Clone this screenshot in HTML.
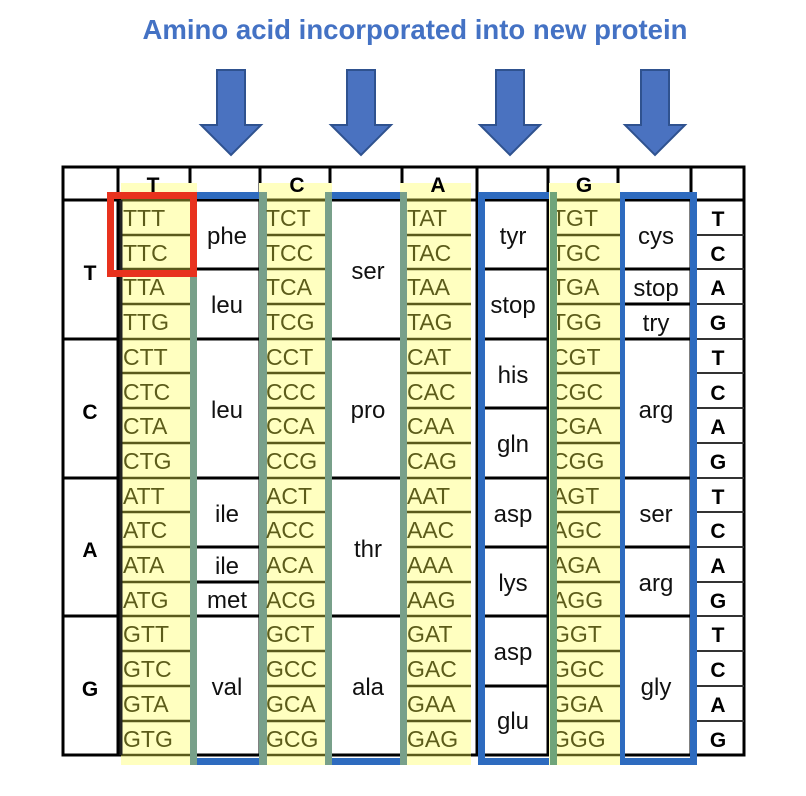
<!DOCTYPE html>
<html><head><meta charset="utf-8"><style>
html,body{margin:0;padding:0;background:#fff;width:806px;height:796px;overflow:hidden}
svg{display:block}
.cd{font-family:"Liberation Sans",sans-serif;font-size:23px;fill:#5c5c1a}
.aa{font-family:"Liberation Sans",sans-serif;font-size:24px;fill:#111;text-anchor:middle}
.b{font-family:"Liberation Sans",sans-serif;font-size:21px;font-weight:bold;fill:#000;text-anchor:middle}
</style></head><body>
<svg width="806" height="796" viewBox="0 0 806 796">
<text x="415" y="39" text-anchor="middle" font-family="Liberation Sans,sans-serif" font-weight="bold" font-size="27.5" fill="#4472c4" textLength="545" lengthAdjust="spacingAndGlyphs">Amino acid incorporated into new protein</text>
<g fill="#4a72c0" stroke="#2f528f" stroke-width="2">
<polygon points="217,70 245,70 245,125 261,125 231,155 201,125 217,125"/>
<polygon points="347,70 375,70 375,125 391,125 361,155 331,125 347,125"/>
<polygon points="496,70 524,70 524,125 540,125 510,155 480,125 496,125"/>
<polygon points="641,70 669,70 669,125 685,125 655,155 625,125 641,125"/>
</g>
<g stroke="#000" stroke-width="3" fill="none">
<rect x="63" y="167" width="681" height="588"/>
<line x1="63" y1="200" x2="744" y2="200"/>
<line x1="118" y1="167" x2="118" y2="755"/>
<line x1="190" y1="167" x2="190" y2="755"/>
<line x1="260" y1="167" x2="260" y2="755"/>
<line x1="330" y1="167" x2="330" y2="755"/>
<line x1="402" y1="167" x2="402" y2="755"/>
<line x1="477" y1="167" x2="477" y2="755"/>
<line x1="548" y1="167" x2="548" y2="755"/>
<line x1="618" y1="167" x2="618" y2="755"/>
<line x1="691" y1="167" x2="691" y2="755"/>
<line x1="63" y1="339" x2="118" y2="339"/>
<line x1="63" y1="478" x2="118" y2="478"/>
<line x1="63" y1="616" x2="118" y2="616"/>
<line x1="190" y1="269" x2="260" y2="269"/><line x1="190" y1="339" x2="260" y2="339"/><line x1="190" y1="478" x2="260" y2="478"/><line x1="190" y1="547" x2="260" y2="547"/><line x1="190" y1="582" x2="260" y2="582"/><line x1="190" y1="616" x2="260" y2="616"/>
<line x1="330" y1="339" x2="402" y2="339"/><line x1="330" y1="478" x2="402" y2="478"/><line x1="330" y1="616" x2="402" y2="616"/>
<line x1="477" y1="269" x2="548" y2="269"/><line x1="477" y1="339" x2="548" y2="339"/><line x1="477" y1="408" x2="548" y2="408"/><line x1="477" y1="478" x2="548" y2="478"/><line x1="477" y1="547" x2="548" y2="547"/><line x1="477" y1="616" x2="548" y2="616"/><line x1="477" y1="686" x2="548" y2="686"/>
<line x1="618" y1="269" x2="691" y2="269"/><line x1="618" y1="304" x2="691" y2="304"/><line x1="618" y1="339" x2="691" y2="339"/><line x1="618" y1="478" x2="691" y2="478"/><line x1="618" y1="547" x2="691" y2="547"/><line x1="618" y1="616" x2="691" y2="616"/>
</g>
<g stroke="#333" stroke-width="2">
<line x1="691" y1="235" x2="744" y2="235"/><line x1="691" y1="269" x2="744" y2="269"/><line x1="691" y1="304" x2="744" y2="304"/><line x1="691" y1="339" x2="744" y2="339"/>
<line x1="691" y1="373" x2="744" y2="373"/><line x1="691" y1="408" x2="744" y2="408"/><line x1="691" y1="443" x2="744" y2="443"/><line x1="691" y1="478" x2="744" y2="478"/>
<line x1="691" y1="512" x2="744" y2="512"/><line x1="691" y1="547" x2="744" y2="547"/><line x1="691" y1="582" x2="744" y2="582"/><line x1="691" y1="616" x2="744" y2="616"/>
<line x1="691" y1="651" x2="744" y2="651"/><line x1="691" y1="686" x2="744" y2="686"/><line x1="691" y1="721" x2="744" y2="721"/>
</g>
<g stroke="#2e6bbf" stroke-width="7" fill="none">
<rect x="192.5" y="195.5" width="72" height="566"/>
<rect x="328.5" y="195.5" width="75" height="566"/>
<rect x="481.5" y="195.5" width="72" height="566"/>
<rect x="621.5" y="195.5" width="72" height="566"/>
</g>
<g fill="#ffffc0">
<rect x="121" y="183" width="76" height="582"/>
<rect x="259" y="183" width="73" height="582"/>
<rect x="400" y="183" width="71" height="582"/>
<rect x="549" y="183" width="71" height="582"/>
</g>
<g fill="#78a08a">
<rect x="190" y="192" width="7" height="573"/>
<rect x="259" y="192" width="8" height="573"/>
<rect x="325" y="192" width="7" height="573"/>
<rect x="400" y="192" width="7" height="573"/>
</g>
<g stroke="#5a5a1c" stroke-width="3">
<line x1="121" y1="200" x2="190" y2="200"/><line x1="267" y1="200" x2="325" y2="200"/><line x1="407" y1="200" x2="471" y2="200"/><line x1="557" y1="200" x2="620" y2="200"/>
</g>
<g stroke="#5a5a1c" stroke-width="2.5">
<path d="M121 235H190M121 269H190M121 304H190M121 339H190M121 373H190M121 408H190M121 443H190M121 478H190M121 512H190M121 547H190M121 582H190M121 616H190M121 651H190M121 686H190M121 721H190M121 755H190"/>
<path d="M267 235H325M267 269H325M267 304H325M267 339H325M267 373H325M267 408H325M267 443H325M267 478H325M267 512H325M267 547H325M267 582H325M267 616H325M267 651H325M267 686H325M267 721H325M267 755H325"/>
<path d="M407 235H471M407 269H471M407 304H471M407 339H471M407 373H471M407 408H471M407 443H471M407 478H471M407 512H471M407 547H471M407 582H471M407 616H471M407 651H471M407 686H471M407 721H471M407 755H471"/>
<path d="M557 235H620M557 269H620M557 304H620M557 339H620M557 373H620M557 408H620M557 443H620M557 478H620M557 512H620M557 547H620M557 582H620M557 616H620M557 651H620M557 686H620M557 721H620M557 755H620"/>
</g>
<line x1="121" y1="200" x2="121" y2="755" stroke="#222" stroke-width="3"/>
<text class="b" x="153" y="192">T</text><text class="b" x="297" y="192">C</text><text class="b" x="438" y="192">A</text><text class="b" x="584" y="192">G</text>
<text class="b" x="90" y="280">T</text><text class="b" x="90" y="419">C</text><text class="b" x="90" y="557">A</text><text class="b" x="90" y="696">G</text>
<text class="b" x="718" y="226">T</text><text class="b" x="718" y="261">C</text><text class="b" x="718" y="295">A</text><text class="b" x="718" y="330">G</text>
<text class="b" x="718" y="365">T</text><text class="b" x="718" y="400">C</text><text class="b" x="718" y="434">A</text><text class="b" x="718" y="469">G</text>
<text class="b" x="718" y="504">T</text><text class="b" x="718" y="538">C</text><text class="b" x="718" y="573">A</text><text class="b" x="718" y="608">G</text>
<text class="b" x="718" y="642">T</text><text class="b" x="718" y="677">C</text><text class="b" x="718" y="712">A</text><text class="b" x="718" y="747">G</text>
<text class="cd" x="123" y="226">TTT</text><text class="cd" x="123" y="261">TTC</text><text class="cd" x="123" y="295">TTA</text><text class="cd" x="123" y="330">TTG</text>
<text class="cd" x="123" y="365">CTT</text><text class="cd" x="123" y="400">CTC</text><text class="cd" x="123" y="434">CTA</text><text class="cd" x="123" y="469">CTG</text>
<text class="cd" x="123" y="504">ATT</text><text class="cd" x="123" y="538">ATC</text><text class="cd" x="123" y="573">ATA</text><text class="cd" x="123" y="608">ATG</text>
<text class="cd" x="123" y="642">GTT</text><text class="cd" x="123" y="677">GTC</text><text class="cd" x="123" y="712">GTA</text><text class="cd" x="123" y="747">GTG</text>
<text class="cd" x="266" y="226">TCT</text><text class="cd" x="266" y="261">TCC</text><text class="cd" x="266" y="295">TCA</text><text class="cd" x="266" y="330">TCG</text>
<text class="cd" x="266" y="365">CCT</text><text class="cd" x="266" y="400">CCC</text><text class="cd" x="266" y="434">CCA</text><text class="cd" x="266" y="469">CCG</text>
<text class="cd" x="266" y="504">ACT</text><text class="cd" x="266" y="538">ACC</text><text class="cd" x="266" y="573">ACA</text><text class="cd" x="266" y="608">ACG</text>
<text class="cd" x="266" y="642">GCT</text><text class="cd" x="266" y="677">GCC</text><text class="cd" x="266" y="712">GCA</text><text class="cd" x="266" y="747">GCG</text>
<text class="cd" x="407" y="226">TAT</text><text class="cd" x="407" y="261">TAC</text><text class="cd" x="407" y="295">TAA</text><text class="cd" x="407" y="330">TAG</text>
<text class="cd" x="407" y="365">CAT</text><text class="cd" x="407" y="400">CAC</text><text class="cd" x="407" y="434">CAA</text><text class="cd" x="407" y="469">CAG</text>
<text class="cd" x="407" y="504">AAT</text><text class="cd" x="407" y="538">AAC</text><text class="cd" x="407" y="573">AAA</text><text class="cd" x="407" y="608">AAG</text>
<text class="cd" x="407" y="642">GAT</text><text class="cd" x="407" y="677">GAC</text><text class="cd" x="407" y="712">GAA</text><text class="cd" x="407" y="747">GAG</text>
<text class="cd" x="552" y="226">TGT</text><text class="cd" x="552" y="261">TGC</text><text class="cd" x="552" y="295">TGA</text><text class="cd" x="552" y="330">TGG</text>
<text class="cd" x="552" y="365">CGT</text><text class="cd" x="552" y="400">CGC</text><text class="cd" x="552" y="434">CGA</text><text class="cd" x="552" y="469">CGG</text>
<text class="cd" x="552" y="504">AGT</text><text class="cd" x="552" y="538">AGC</text><text class="cd" x="552" y="573">AGA</text><text class="cd" x="552" y="608">AGG</text>
<text class="cd" x="552" y="642">GGT</text><text class="cd" x="552" y="677">GGC</text><text class="cd" x="552" y="712">GGA</text><text class="cd" x="552" y="747">GGG</text>
<rect x="550" y="192" width="7" height="573" fill="#6fa47a"/>
<text class="aa" x="227" y="244">phe</text><text class="aa" x="227" y="313">leu</text><text class="aa" x="227" y="418">leu</text>
<text class="aa" x="227" y="522">ile</text><text class="aa" x="227" y="574">ile</text><text class="aa" x="227" y="608">met</text><text class="aa" x="227" y="695">val</text>
<text class="aa" x="368" y="279">ser</text><text class="aa" x="368" y="418">pro</text><text class="aa" x="368" y="557">thr</text><text class="aa" x="368" y="695">ala</text>
<text class="aa" x="513" y="244">tyr</text><text class="aa" x="513" y="313">stop</text><text class="aa" x="513" y="383">his</text><text class="aa" x="513" y="452">gln</text>
<text class="aa" x="513" y="522">asp</text><text class="aa" x="513" y="591">lys</text><text class="aa" x="513" y="660">asp</text><text class="aa" x="513" y="729">glu</text>
<text class="aa" x="656" y="244">cys</text><text class="aa" x="656" y="296">stop</text><text class="aa" x="656" y="331">try</text><text class="aa" x="656" y="418">arg</text>
<text class="aa" x="656" y="522">ser</text><text class="aa" x="656" y="591">arg</text><text class="aa" x="656" y="695">gly</text>
<rect x="110.5" y="195.5" width="83" height="78" fill="none" stroke="#e8321e" stroke-width="7"/>
</svg>
</body></html>
